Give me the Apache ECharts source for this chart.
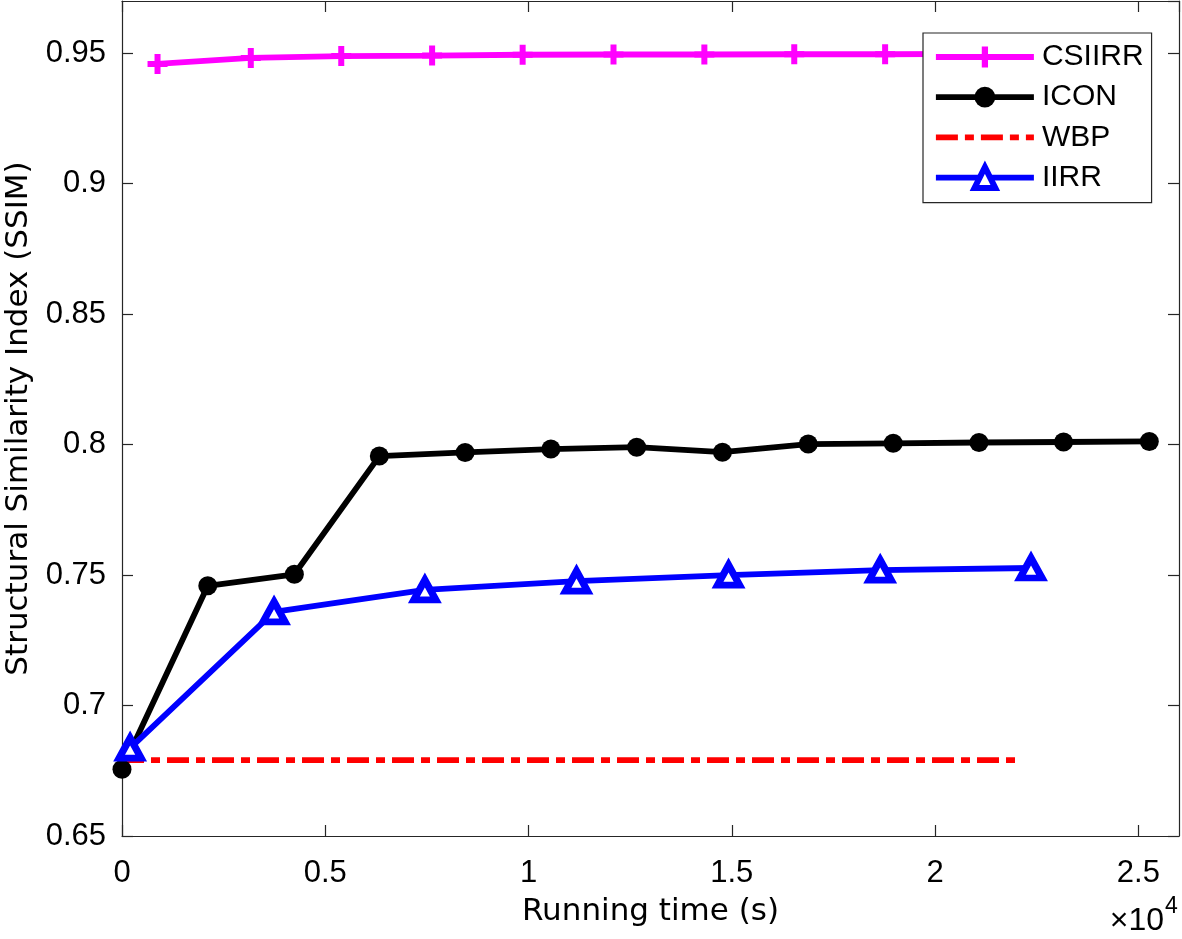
<!DOCTYPE html>
<html>
<head>
<meta charset="utf-8">
<script src="https://cdn.jsdelivr.net/npm/echarts@6/dist/echarts.min.js"></script>
<style>
html,body{margin:0;padding:0;background:#fff;}
#chart{width:1182px;height:939px;}
</style>
</head>
<body>
<div id="chart"></div>
<script>
// ---- data ----
const seriesNames = ['CSIIRR', 'ICON', 'WBP', 'IIRR'];

const csiirrX = [874, 3168, 5393, 7628, 9855, 12090, 14325, 16536, 18771, 21005];
const csiirrY = [0.9459, 0.9482, 0.9489, 0.9491, 0.9494, 0.9495, 0.9495, 0.9496, 0.9496, 0.9497];

const iconX = [0, 2110, 4240, 6330, 8440, 10550, 12660, 14770, 16880, 18970, 21080, 23160, 25270];
const iconY = [0.6756, 0.7459, 0.7503, 0.7956, 0.7970, 0.7983, 0.7990, 0.7971, 0.8002, 0.8005, 0.8008, 0.8010, 0.8012];

const wbpX = [0, 22000];
const wbpY = [0.6791, 0.6791];

const iirrX = [200, 3740, 7450, 11180, 14920, 18650, 22360];
const iirrY = [0.6837, 0.7359, 0.7443, 0.7477, 0.7500, 0.7519, 0.7527];

const xTickScale = 10000;   // axis shown in units of 10^4
const xMin = 0, xMax = 26000, xStep = 5000;
const yMin = 0.65, yMax = 0.97, yStep = 0.05;

// ---- build ----
const pair = (xs, ys) => xs.map((x, i) => [x, ys[i]]);
const FONT = 'Liberation Sans, Arial, Helvetica, sans-serif';
const NAMEFONT = 'DejaVu Sans, Liberation Sans, sans-serif';
const AX = '#262626';
const plusPath = 'path://M7,0H13V7H20V13H13V20H7V13H0V7H7Z';
const LW = 5.8;
const wbpDash = [22, 7, 9, 7];

const chart = echarts.init(document.getElementById('chart'), null, {renderer: 'canvas'});

const baseX = {
  type: 'value', min: xMin, max: xMax, interval: xStep,
  axisLine: {show: true, onZero: false, lineStyle: {color: AX, width: 1.2}},
  axisTick: {show: true, inside: true, length: 11, lineStyle: {color: AX, width: 1.2}},
  splitLine: {show: false}
};
const baseY = {
  type: 'value', min: yMin, max: yMax, interval: yStep,
  axisLine: {show: true, onZero: false, lineStyle: {color: AX, width: 1.2}},
  axisTick: {show: true, inside: true, length: 11, lineStyle: {color: AX, width: 1.2}},
  splitLine: {show: false}
};

const option = {
  backgroundColor: '#fff',
  animation: false,
  grid: {left: 122, right: 3, top: 1, bottom: 103, show: false, containLabel: false, outerBoundsMode: 'none'},
  xAxis: [
    Object.assign({}, baseX, {
      position: 'bottom',
      name: 'Running time (s)', nameLocation: 'middle', nameGap: 60,
      nameTextStyle: {fontFamily: NAMEFONT, fontSize: 31, color: '#000'},
      axisLabel: {
        show: true, margin: 22, showMaxLabel: false,
        fontFamily: FONT, fontSize: 31, color: '#000',
        formatter: v => String(+(v / xTickScale).toFixed(2))
      }
    }),
    Object.assign({}, baseX, {position: 'top', axisLabel: {show: false}})
  ],
  yAxis: [
    Object.assign({}, baseY, {
      position: 'left',
      name: 'Structural Similarity Index (SSIM)', nameLocation: 'middle', nameGap: 87,
      nameTextStyle: {fontFamily: NAMEFONT, fontSize: 31, color: '#000'},
      axisLabel: {
        show: true, margin: 16, showMaxLabel: false,
        fontFamily: FONT, fontSize: 31, color: '#000',
        formatter: v => String(+v.toFixed(2))
      }
    }),
    Object.assign({}, baseY, {position: 'right', axisLabel: {show: false}})
  ],
  legend: {
    orient: 'vertical', left: 923, top: 33,
    padding: [9, 8, 10, 10], itemGap: 10.2, itemWidth: 98, itemHeight: 26,
    backgroundColor: '#fff', borderColor: AX, borderWidth: 1.2,
    lineStyle: {width: LW},
    textStyle: {fontFamily: FONT, fontSize: 30, color: '#000', padding: [0, 0, 0, 3]},
    data: [
      {name: seriesNames[0]},
      {name: seriesNames[1]},
      {name: seriesNames[2], itemStyle: {opacity: 0}, lineStyle: {width: LW, type: wbpDash}},
      {name: seriesNames[3], itemStyle: {color: '#FFFFFF', borderColor: '#0000FF', borderWidth: 6}}
    ],
    z: 10
  },
  series: [
    {
      name: seriesNames[0], type: 'line', data: pair(csiirrX, csiirrY),
      xAxisIndex: 0, yAxisIndex: 0,
      lineStyle: {color: '#FF00FF', width: LW},
      itemStyle: {color: '#FF00FF'},
      symbol: plusPath, symbolSize: 20, showAllSymbol: true
    },
    {
      name: seriesNames[1], type: 'line', data: pair(iconX, iconY),
      xAxisIndex: 0, yAxisIndex: 0,
      lineStyle: {color: '#000000', width: LW},
      itemStyle: {color: '#000000'},
      symbol: 'circle', symbolSize: 19, showAllSymbol: true
    },
    {
      name: seriesNames[2], type: 'line', data: pair(wbpX, wbpY),
      xAxisIndex: 0, yAxisIndex: 0,
      lineStyle: {color: '#FF0000', width: LW, type: wbpDash},
      itemStyle: {color: '#FF0000'},
      symbol: 'none'
    },
    {
      name: seriesNames[3], type: 'line', data: pair(iirrX, iirrY),
      xAxisIndex: 0, yAxisIndex: 0,
      lineStyle: {color: '#0000FF', width: LW},
      itemStyle: {color: '#FFFFFF', borderColor: '#0000FF', borderWidth: 7},
      symbol: 'triangle', symbolSize: [22, 20], showAllSymbol: true
    }
  ],
  graphic: [
    {type: 'text', right: 18, top: 905, style: {text: '×10', fontFamily: FONT, fontSize: 32, fill: '#000'}},
    {type: 'text', left: 1165, top: 895, style: {text: '4', fontFamily: FONT, fontSize: 23, fill: '#000'}}
  ]
};
chart.setOption(option);
</script>
</body>
</html>
